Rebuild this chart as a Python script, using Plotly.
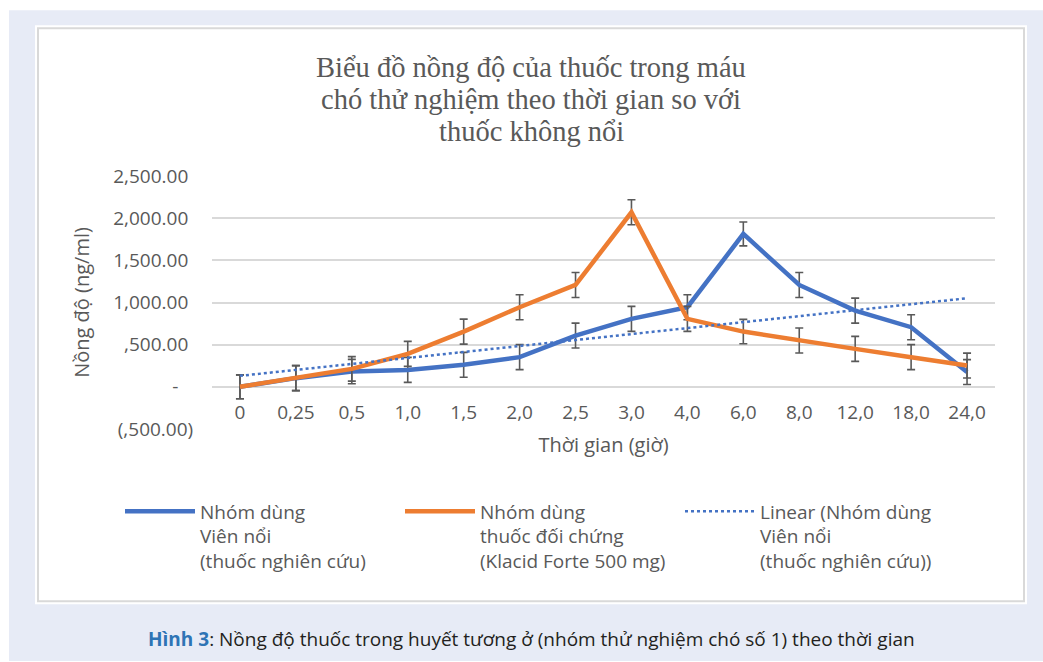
import numpy as np
import plotly.graph_objects as go

# ---------------- data ----------------
time_labels = ["0", "0,25", "0,5", "1,0", "1,5", "2,0", "2,5", "3,0",
               "4,0", "6,0", "8,0", "12,0", "18,0", "24,0"]
floating_tablet = [0, 103, 181, 201, 261, 352, 608, 806,
                   944, 1813, 1208, 904, 707, 175]
reference_drug = [0, 103, 213, 391, 655, 944, 1208, 2070,
                  806, 655, 549, 450, 352, 252]
floating_err = [142, 148, 145, 148, 148, 148, 148, 148,
                148, 142, 148, 148, 148, 148]
reference_err = [142, 148, 145, 148, 148, 148, 148, 148,
                 148, 145, 148, 148, 148, 148]
y_tick_vals = [-500, 0, 500, 1000, 1500, 2000, 2500]
y_tick_text = ["(,500.00)", "-\u00a0\u00a0\u00a0", ",500.00\u00a0", "1,000.00\u00a0",
               "1,500.00\u00a0", "2,000.00\u00a0", "2,500.00\u00a0"]
title_lines = ["Biểu đồ nồng độ của thuốc trong máu",
               "chó thử nghiệm theo thời gian so với",
               "thuốc không nổi"]

# Excel-style linear trendline of the floating-tablet series
idx = np.arange(len(floating_tablet))
slope, intercept = np.polyfit(idx, floating_tablet, 1)
trend = intercept + slope * idx

# ---------------- geometry helpers ----------------
W, H = 1043, 662
PL, PR, PT, PB = 212, 995, 176, 429.5   # plot area in pixels
PW, PH = PR - PL, PB - PT


def px(x):
    return (x - PL) / PW


def py(y):
    return (PB - y) / PH


GREY = "#595959"
BLUE = "#4472C4"
ORANGE = "#ED7D31"
FONT = "Open Sans"

fig = go.Figure()

fig.add_trace(go.Scatter(
    x=time_labels, y=floating_tablet, mode="lines",
    name="Nhóm dùng<br>Viên nổi<br>(thuốc nghiên cứu)",
    line=dict(color=BLUE, width=4.5),
    error_y=dict(type="data", array=floating_err, visible=True,
                 color=GREY, thickness=1.6, width=4),
))
fig.add_trace(go.Scatter(
    x=time_labels, y=reference_drug, mode="lines",
    name="Nhóm dùng<br>thuốc đối chứng<br>(Klacid Forte 500 mg)",
    line=dict(color=ORANGE, width=4.5),
    error_y=dict(type="data", array=reference_err, visible=True,
                 color=GREY, thickness=1.6, width=4),
))
fig.add_trace(go.Scatter(
    x=time_labels, y=trend, mode="lines",
    name="Linear (Nhóm dùng<br>Viên nổi<br>(thuốc nghiên cứu))",
    line=dict(color=BLUE, width=2.5, dash="dot"),
))

shapes = [
    # lavender page background
    dict(type="rect", xref="paper", yref="paper", layer="below",
         x0=px(9), x1=px(1043), y0=py(662), y1=py(10),
         fillcolor="#e7ebf6", line=dict(width=0)),
    # white chart box
    dict(type="rect", xref="paper", yref="paper", layer="below",
         x0=px(35), x1=px(1027), y0=py(605), y1=py(25),
         fillcolor="white", line=dict(width=0)),
    # grey border of chart area
    dict(type="rect", xref="paper", yref="paper", layer="below",
         x0=px(38), x1=px(1024), y0=py(602), y1=py(28),
         fillcolor="rgba(0,0,0,0)", line=dict(color="#d9d9d9", width=2)),
]

annotations = []
for line_text, yc in zip(title_lines, [67, 99, 131]):
    annotations.append(dict(
        xref="paper", yref="paper", x=px(531), y=py(yc),
        xanchor="center", yanchor="middle", showarrow=False,
        text=line_text,
        font=dict(family="Liberation Serif", size=28.5, color=GREY)))
annotations.append(dict(
    xref="paper", yref="paper", x=px(531), y=py(640),
    xanchor="center", yanchor="middle", showarrow=False,
    text="<span style='color:#2e74b5'><b>Hình 3</b></span>: Nồng độ thuốc trong huyết tương ở (nhóm thử nghiệm chó số 1) theo thời gian",
    font=dict(family=FONT, size=19, color="#231f20")))

fig.update_layout(
    width=W, height=H,
    margin=dict(l=PL, r=W - PR, t=PT, b=H - PB, autoexpand=False),
    paper_bgcolor="white",
    plot_bgcolor="rgba(0,0,0,0)",
    shapes=shapes,
    showlegend=True,
    xaxis=dict(
        type="category", categoryorder="array", categoryarray=time_labels,
        range=[-0.5, len(time_labels) - 0.5],
        showgrid=False, showline=False, zeroline=False, ticks="",
        anchor="free", position=500 / 3000, ticklabelstandoff=12,
        tickfont=dict(family=FONT, size=19, color=GREY),
        title=dict(text="Thời gian (giờ)", standoff=14,
                   font=dict(family=FONT, size=20, color=GREY)),
    ),
    yaxis=dict(
        range=[-500, 2500], tickmode="array",
        tickvals=y_tick_vals, ticktext=y_tick_text,
        showgrid=True, gridcolor="#d9d9d9", gridwidth=1.5,
        zeroline=False, showline=False,
        ticks="outside", ticklen=14, tickcolor="rgba(0,0,0,0)",
        tickfont=dict(family=FONT, size=19, color=GREY),
        title=dict(text="Nồng độ (ng/ml)", standoff=18,
                   font=dict(family=FONT, size=20, color=GREY)),
    ),
    legend=dict(
        orientation="h", x=px(120), xanchor="left", y=py(493), yanchor="top",
        valign="top", itemwidth=70, entrywidth=195, entrywidthmode="pixels",
        bgcolor="rgba(0,0,0,0)",
        font=dict(family=FONT, size=19, color=GREY),
        traceorder="normal",
    ),
    annotations=annotations,
)

fig.write_html("out.html", config={"displayModeBar": False},
               post_script="document.body.style.margin='0';")
